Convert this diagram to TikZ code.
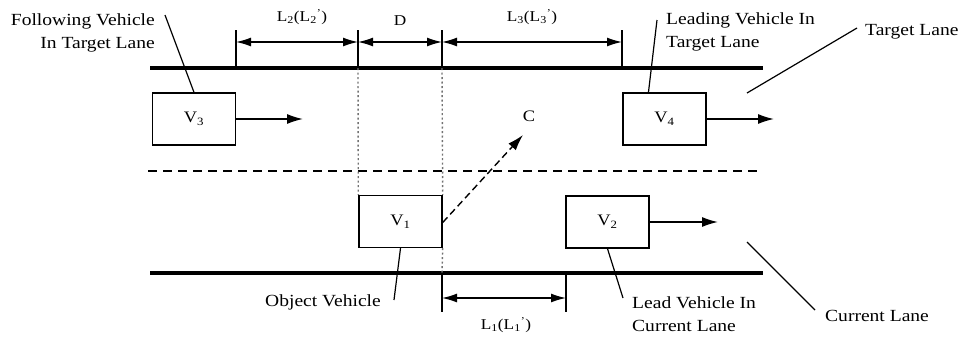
\documentclass[tikz,border=0pt]{standalone}
\usepackage{fontspec}
\setmainfont{Liberation Serif}[FakeStretch=1.15]
\usetikzlibrary{arrows.meta,calc}
\begin{document}
\begin{tikzpicture}[x=1pt,y=-1pt,
  lane/.style={line width=3.4pt},
  car/.style={draw, line width=1.4pt, minimum width=83pt, minimum height=52pt, inner sep=0pt, font=\fontsize{16}{18}\selectfont},
  lbl/.style={font=\fontsize{17}{23}\selectfont, inner sep=0pt},
  dimlbl/.style={font=\fontsize{15}{18}\selectfont, inner sep=0pt},
  leader/.style={line width=1.2pt},
  motion/.style={line width=1.4pt, -{Latex[length=16pt,width=10pt]}},
  dimline/.style={line width=1.4pt, {Latex[length=15pt,width=9pt]}-{Latex[length=15pt,width=9pt]}},
  tickline/.style={line width=1.4pt},
  guide/.style={line width=1.4pt, black!55, dash pattern=on 2pt off 2.5pt},
  lanedash/.style={line width=1.8pt, dash pattern=on 9pt off 6pt}]
\useasboundingbox (0,0) rectangle (962,338);

% lanes
\coordinate (TLa) at (150,68);  \coordinate (TLb) at (763,68);
\coordinate (BLa) at (150,273); \coordinate (BLb) at (763,273);
\coordinate (DLa) at (148,171); \coordinate (DLb) at (762,171);
\draw[lane] (TLa) -- (TLb);
\draw[lane] (BLa) -- (BLb);
\draw[lanedash] (DLa) -- (DLb);

% vehicles
\node[car] (V3) at (194,119) {V\textsubscript{3}};
\node[car] (V4) at (664.5,119) {V\textsubscript{4}};
\node[car] (V1) at (400.5,221.5) {V\textsubscript{1}};
\node[car] (V2) at (607.5,222) {V\textsubscript{2}};

% motion arrows
\coordinate (V3t) at (303,119);
\coordinate (V4t) at (774,119);
\coordinate (V2t) at (718,222);
\draw[motion] (V3.east) -- (V3t);
\draw[motion] (V4.east) -- (V4t);
\draw[motion] (V2.east) -- (V2t);

% lane change
\node[dimlbl, font=\fontsize{16}{18}\selectfont] (C) at (529,116) {C};
\coordinate (Ct) at (523,135);
\draw[line width=1.4pt, dash pattern=on 7pt off 4pt, -{Latex[length=16pt,width=10pt]}] ($(V1.east)+(0,1)$) -- (Ct);

% guides
\draw[guide] (358,68) -- (V1.north west);
\draw[guide] (442,68) -- (V1.north east);
\draw[guide] (V1.south east) -- (442,273);

% top dimensions
\coordinate (d1) at (236,42); \coordinate (d2) at (358,42);
\coordinate (d3) at (442,42); \coordinate (d4) at (622,42);
\foreach \x in {236,358,442,622} \draw[tickline] (\x,30) -- (\x,68);
\draw[dimline] (d1) -- (d2);
\draw[dimline] (d2) -- (d3);
\draw[dimline] (d3) -- (d4);
\node[dimlbl] (L2) at (302,17) {L\textsubscript{2}(L\textsubscript{2}\textsuperscript{'})};
\node[dimlbl] (D) at (400,21) {D};
\node[dimlbl] (L3) at (532,17) {L\textsubscript{3}(L\textsubscript{3}\textsuperscript{'})};

% bottom dimension
\coordinate (e1) at (442,298); \coordinate (e2) at (566,298);
\foreach \x in {442,566} \draw[tickline] (\x,273) -- (\x,312);
\draw[dimline] (e1) -- (e2);
\node[dimlbl] (L1) at (506,325) {L\textsubscript{1}(L\textsubscript{1}\textsuperscript{'})};

% labels and leaders
\node[lbl, anchor=east, align=right] (FV) at (155,33) {Following Vehicle\\In Target Lane};
\node[lbl, anchor=west, align=left] (LV) at (666,32) {Leading Vehicle In\\Target Lane};
\node[lbl, anchor=west] (TL) at (865,32) {Target Lane};
\node[lbl, anchor=west] (OV) at (265,302) {Object Vehicle};
\node[lbl, anchor=west, align=left] (LC) at (632,314) {Lead Vehicle In\\Current Lane};
\node[lbl, anchor=west] (CL) at (825,316) {Current Lane};

\coordinate (FVa) at (165,15);
\coordinate (LVa) at (657,20);
\coordinate (TLa2) at (857,28);  \coordinate (TLe) at (747,93);
\coordinate (OVa) at (394,300);
\coordinate (LCa) at (623,298);
\coordinate (CLa) at (815,310); \coordinate (CLe) at (747,242);
\draw[leader] (FVa) -- (V3.north);
\draw[leader] (LVa) -- ($(V4.north west)!0.31!(V4.north east)$);
\draw[leader] (TLa2) -- (TLe);
\draw[leader] (OVa) -- (V1.south);
\draw[leader] (LCa) -- (V2.south);
\draw[leader] (CLa) -- (CLe);
\end{tikzpicture}
\end{document}
